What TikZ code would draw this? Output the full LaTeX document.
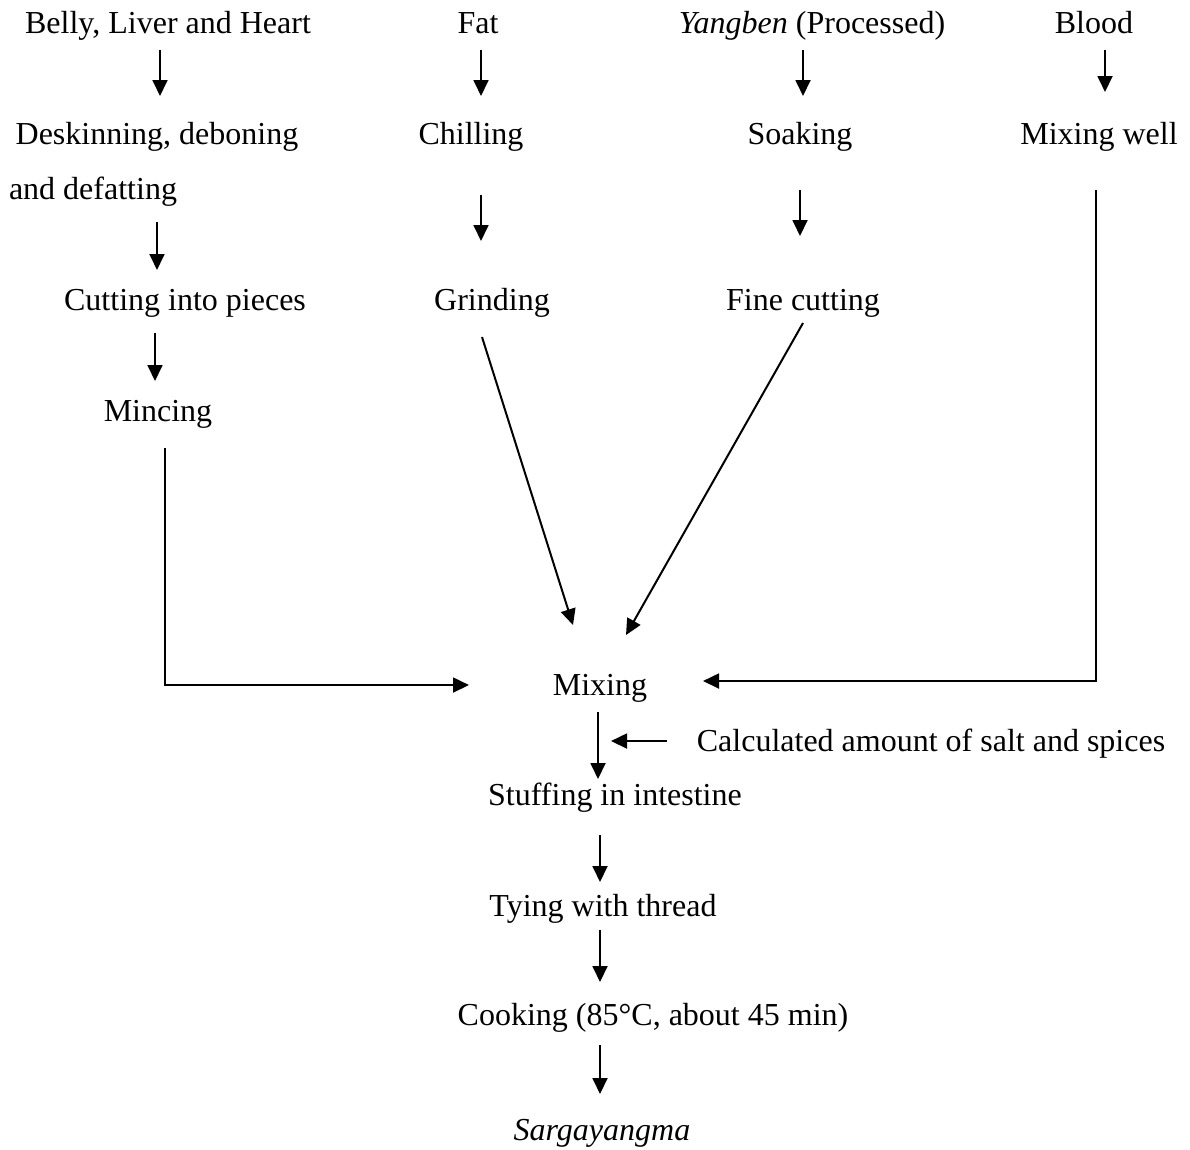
\documentclass[tikz,border=0pt]{standalone}
\usepackage{fontspec}
\setmainfont{Liberation Serif}
\usetikzlibrary{arrows.meta}
\begin{document}
\begin{tikzpicture}[x=0.375pt,y=-0.375pt,
  lbl/.style={anchor=base,inner sep=0pt,font=\fontsize{12pt}{14pt}\selectfont},
  flow/.style={line width=0.75pt,-{Triangle[length=6pt,width=5.6pt]}},
  plain/.style={line width=0.75pt}]
\useasboundingbox (0,0) rectangle (1190,1149);
% texts
\node[lbl] (belly) at (168,33) {Belly, Liver and Heart};
\node[lbl] (fat) at (478,33) {Fat};
\node[lbl] (yang) at (812,33) {\textit{Yangben} (Processed)};
\node[lbl] (blood) at (1094,33) {Blood};
\node[lbl] (desk) at (157,144) {Deskinning, deboning};
\node[lbl] (defat) at (93,199) {and defatting};
\node[lbl] (chill) at (471,144) {Chilling};
\node[lbl] (soak) at (800,144) {Soaking};
\node[lbl] (mixw) at (1099,144) {Mixing well};
\node[lbl] (cut) at (185,310) {Cutting into pieces};
\node[lbl] (grind) at (492,310) {Grinding};
\node[lbl] (fine) at (803,310) {Fine cutting};
\node[lbl] (mince) at (158,421) {Mincing};
\node[lbl] (mix) at (600,695) {Mixing};
\node[lbl] (salt) at (931,751) {Calculated amount of salt and spices};
\node[lbl] (stuff) at (615,805) {Stuffing in intestine};
\node[lbl] (tie) at (603,916) {Tying with thread};
\node[lbl] (cook) at (653,1025) {Cooking (85\textdegree C, about 45 min)};
\node[lbl] (sarg) at (602,1140) {\textit{Sargayangma}};
% arrow coordinates
\coordinate (a1s) at (160,50); \coordinate (a1e) at (160,96);
\coordinate (a2s) at (481,50); \coordinate (a2e) at (481,96);
\coordinate (a3s) at (803,50); \coordinate (a3e) at (803,96);
\coordinate (a4s) at (1105,50); \coordinate (a4e) at (1105,92);
\coordinate (b1s) at (157,222); \coordinate (b1e) at (157,270);
\coordinate (b2s) at (481,195); \coordinate (b2e) at (481,241);
\coordinate (b3s) at (800,190); \coordinate (b3e) at (800,236);
\coordinate (c1s) at (155,333); \coordinate (c1e) at (155,381);
\coordinate (m1) at (165,448); \coordinate (m2) at (165,685); \coordinate (m3) at (469,685);
\coordinate (g1) at (482,337); \coordinate (g2) at (573,625);
\coordinate (f1) at (803,323); \coordinate (f2) at (626,635);
\coordinate (w1) at (1096,190); \coordinate (w2) at (1096,681); \coordinate (w3) at (703,681);
\coordinate (d1s) at (598,712); \coordinate (d1e) at (598,779);
\coordinate (s1s) at (667,741); \coordinate (s1e) at (611,741);
\coordinate (d2s) at (600,835); \coordinate (d2e) at (600,882);
\coordinate (d3s) at (600,930); \coordinate (d3e) at (600,982);
\coordinate (d4s) at (600,1045); \coordinate (d4e) at (600,1094);
% connectors
\draw[flow] (a1s) -- (a1e);
\draw[flow] (a2s) -- (a2e);
\draw[flow] (a3s) -- (a3e);
\draw[flow] (a4s) -- (a4e);
\draw[flow] (b1s) -- (b1e);
\draw[flow] (b2s) -- (b2e);
\draw[flow] (b3s) -- (b3e);
\draw[flow] (c1s) -- (c1e);
\draw[flow] (m1) -- (m2) -- (m3);
\draw[flow] (g1) -- (g2);
\draw[flow] (f1) -- (f2);
\draw[flow] (w1) -- (w2) -- (w3);
\draw[flow] (d1s) -- (d1e);
\draw[flow] (s1s) -- (s1e);
\draw[flow] (d2s) -- (d2e);
\draw[flow] (d3s) -- (d3e);
\draw[flow] (d4s) -- (d4e);
\end{tikzpicture}
\end{document}
